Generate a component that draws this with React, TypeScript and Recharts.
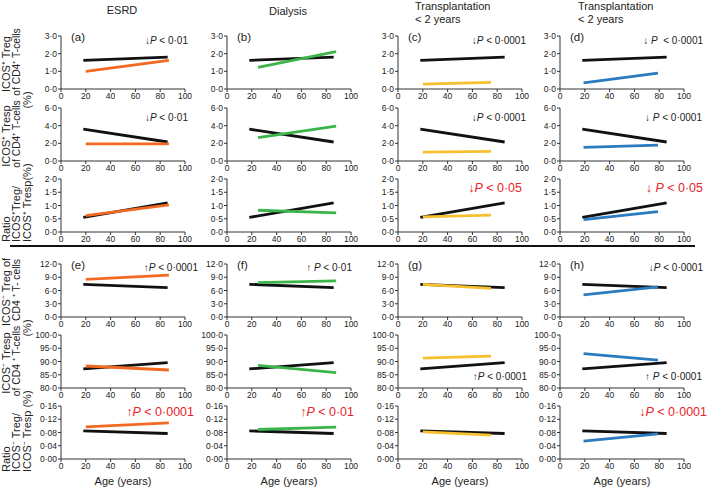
import { LineChart, Line, XAxis, YAxis } from "recharts";

const FONT = "'Liberation Sans', Arial, Helvetica, sans-serif";

const AGE_TICKS = [0, 20, 40, 60, 80, 100];
const COLUMN_TITLES = ["ESRD", "Dialysis", "Transplantation", "Transplantation"];
const COLUMN_SUBTITLES = ["", "", "< 2 years", "< 2 years"];
const GROUP_COLORS = ["#f26a21", "#3bb54a", "#f6c02f", "#2b7bc0"];
const PANEL_LETTERS = ["(a)", "(b)", "(c)", "(d)", "(e)", "(f)", "(g)", "(h)"];

// age span of each fitted line
const CONTROL_AGES = [18, 86];
const GROUP_AGES = [
  [20, 87],
  [25, 88],
  [20, 75],
  [19, 79],
];

// y at start / end age: healthy controls (black) and the patient group per column
const icosPosTregControl = [1.62, 1.8];
const icosPosTregGroups = [[1.0, 1.62], [1.22, 2.12], [0.28, 0.38], [0.35, 0.9]];

const icosPosTrespControl = [3.6, 2.15];
const icosPosTrespGroups = [[1.95, 1.95], [2.65, 3.95], [1.0, 1.1], [1.55, 1.8]];

const icosPosRatioControl = [0.55, 1.1];
const icosPosRatioGroups = [[0.62, 1.02], [0.82, 0.72], [0.57, 0.64], [0.47, 0.77]];

const icosNegTregControl = [7.4, 6.65];
const icosNegTregGroups = [[8.5, 9.5], [7.8, 8.2], [7.4, 6.5], [5.0, 6.8]];

const icosNegTrespControl = [87.2, 89.6];
const icosNegTrespGroups = [[88.3, 86.8], [88.5, 85.8], [91.3, 92.0], [93.0, 90.5]];

const icosNegRatioControl = [0.085, 0.077];
const icosNegRatioGroups = [[0.097, 0.109], [0.089, 0.096], [0.082, 0.072], [0.054, 0.076]];

const ROWS = [
  { control: icosPosTregControl, groups: icosPosTregGroups, ticks: [0, 1, 2, 3], dec: 1 },
  { control: icosPosTrespControl, groups: icosPosTrespGroups, ticks: [0, 2, 4, 6], dec: 1 },
  { control: icosPosRatioControl, groups: icosPosRatioGroups, ticks: [0, 0.5, 1, 1.5, 2], dec: 1 },
  { control: icosNegTregControl, groups: icosNegTregGroups, ticks: [0, 3, 6, 9, 12], dec: 1 },
  { control: icosNegTrespControl, groups: icosNegTrespGroups, ticks: [80, 85, 90, 95, 100], dec: 1 },
  { control: icosNegRatioControl, groups: icosNegRatioGroups, ticks: [0, 0.04, 0.08, 0.12, 0.16], dec: 2 },
];

// layout
const COL_LEFT = [61, 227, 398, 560];
const ROW_TOP = [36, 108, 179, 264, 335, 406];
const PLOT_W = 124;
const PLOT_H = 53;

// p-value notes: row, col, arrow, gap, text, red, x end, y baseline
const P_NOTES: [number, number, string, string, string, boolean, number, number][] = [
  [0, 0, "↓", "", " < 0·01", false, 188, 44],
  [0, 2, "↓", "", " < 0·0001", false, 526, 44],
  [0, 3, "↓", " ", "  < 0·0001", false, 703, 44],
  [1, 0, "↓", "", " < 0·01", false, 188, 121],
  [1, 2, "↓", "", " < 0·0001", false, 526, 121],
  [1, 3, "↓", " ", " < 0·0001", false, 702, 121],
  [2, 2, "↓", "", " < 0·05", true, 522, 192],
  [2, 3, "↓", " ", " < 0·05", true, 703, 192],
  [3, 0, "↑", "", " < 0·0001", false, 198, 271],
  [3, 1, "↑", " ", " < 0·01", false, 352, 271],
  [3, 3, "↓", "", " < 0·0001", false, 703, 271],
  [4, 2, "↑", "", " < 0·0001", false, 527, 380],
  [4, 3, "↑", " ", " < 0·0001", false, 702, 380],
  [5, 0, "↑", "", " < 0·0001", true, 194, 416],
  [5, 1, "↑", "", " < 0·01", true, 354, 416],
  [5, 3, "↓", "", " < 0·0001", true, 707, 416],
];

// rotated y labels, three lines each
const Y_LABELS = [
  ["ICOS⁺ Treg", "of CD4⁺ T-cells", "(%)"],
  ["ICOS⁺ Tresp", "of CD4⁺ T-cells", "(%)"],
  ["Ratio", "ICOS⁺Treg/", "ICOS⁺ Tresp"],
  ["ICOS⁻ Treg of", "CD4 ⁺ T- cells", "(%)"],
  ["ICOS⁻ Tresp", "of CD4 ⁺ T-cells", "(%)"],
  ["Ratio", "ICOS⁻ Treg/", "ICOS⁻ Tresp"],
];

function Panel({ row, col }: { row: number; col: number }) {
  const r = ROWS[row];
  const ctrl = CONTROL_AGES.map((x, i) => ({ x, y: r.control[i] }));
  const grp = GROUP_AGES[col].map((x, i) => ({ x, y: r.groups[col][i] }));
  const fmt = (v: number) => v.toFixed(r.dec).replace(".", "·");
  return (
    <div style={{ position: "absolute", left: COL_LEFT[col] - 40, top: ROW_TOP[row] - 6 }}>
      <LineChart
        width={40 + PLOT_W + 14}
        height={6 + PLOT_H + 18}
        margin={{ top: 6, right: 14, bottom: 0, left: 0 }}
      >
        <XAxis
          type="number"
          dataKey="x"
          domain={[0, 100]}
          ticks={AGE_TICKS}
          interval={0}
          height={18}
          tickSize={3}
          tickMargin={1}
          axisLine={{ stroke: "#333" }}
          tickLine={{ stroke: "#333" }}
          tick={{ fontSize: 8.5, fill: "#222", fontFamily: FONT }}
        />
        <YAxis
          type="number"
          domain={[r.ticks[0], r.ticks[r.ticks.length - 1]]}
          ticks={r.ticks}
          interval={0}
          width={40}
          tickSize={3}
          tickMargin={1}
          tickFormatter={fmt}
          axisLine={{ stroke: "#333" }}
          tickLine={{ stroke: "#333" }}
          tick={{ fontSize: 8.5, fill: "#222", fontFamily: FONT }}
        />
        <Line data={ctrl} dataKey="y" stroke="#111" strokeWidth={2.8} dot={false} isAnimationActive={false} />
        <Line data={grp} dataKey="y" stroke={GROUP_COLORS[col]} strokeWidth={2.8} dot={false} isAnimationActive={false} />
      </LineChart>
    </div>
  );
}

export default function App() {
  const panels = [];
  for (let row = 0; row < 6; row++) {
    for (let col = 0; col < 4; col++) {
      panels.push(<Panel key={`${row}-${col}`} row={row} col={col} />);
    }
  }
  const lineX = [9.5, 20, 30.5];
  return (
    <div style={{ position: "absolute", left: 0, top: 0, width: 709, height: 488, background: "#fff", fontFamily: FONT, overflow: "hidden" }}>
      {panels}
      <svg width={709} height={488} style={{ position: "absolute", left: 0, top: 0, pointerEvents: "none" }} fontFamily={FONT}>
        {/* column headings */}
        <text x={122} y={14} fontSize={11} textAnchor="middle" fill="#222">{COLUMN_TITLES[0]}</text>
        <text x={288} y={15} fontSize={11} textAnchor="middle" fill="#222">{COLUMN_TITLES[1]}</text>
        {[2, 3].map((c) => (
          <g key={c}>
            <text x={c === 2 ? 415 : 578} y={10} fontSize={11} fill="#222">{COLUMN_TITLES[c]}</text>
            <text x={c === 2 ? 415 : 578} y={23} fontSize={11} fill="#222">{COLUMN_SUBTITLES[c]}</text>
          </g>
        ))}
        {/* panel letters */}
        {PANEL_LETTERS.map((l, i) => {
          const row = i < 4 ? 0 : 3;
          const col = i % 4;
          return (
            <text key={l} x={COL_LEFT[col] + 10} y={ROW_TOP[row] + 5} fontSize={11.5} fill="#222">{l}</text>
          );
        })}
        {/* separator */}
        <line x1={10} x2={695} y1={246} y2={246} stroke="#111" strokeWidth={2} />
        {/* p-values */}
        {P_NOTES.map(([row, col, arrow, gap, rest, red, x, y]) => (
          <text
            key={`${row}-${col}`}
            x={x}
            y={y}
            textAnchor="end"
            fontSize={red ? 12.5 : 10}
            fill={red ? "#e8232a" : "#222"}
            style={{ whiteSpace: "pre" }}
          >
            {arrow}
            {gap}
            <tspan fontStyle="italic">P</tspan>
            {rest}
          </text>
        ))}
        {/* y labels */}
        {Y_LABELS.map((lines, row) => {
          const top = ROW_TOP[row];
          const ratio = row === 2 || row === 5;
          return lines.map((t, k) => {
            const x = lineX[k];
            if (ratio) {
              const y = row === 2 ? 242 : 472;
              return (
                <text key={`${row}-${k}`} x={x} y={y} fontSize={11} fill="#222" transform={`rotate(-90 ${x} ${y})`}>{t}</text>
              );
            }
            const cy = k === 2 ? top + 64 : k === 1 ? top + 26 : top + 28;
            return (
              <text key={`${row}-${k}`} x={x} y={cy} fontSize={k === 1 ? 10.3 : 11} fill="#222" textAnchor="middle" transform={`rotate(-90 ${x} ${cy})`}>{t}</text>
            );
          });
        })}
        {/* x labels */}
        {COL_LEFT.map((l, c) => (
          <text key={c} x={l + PLOT_W / 2} y={485} fontSize={11} textAnchor="middle" fill="#222">Age (years)</text>
        ))}
      </svg>
    </div>
  );
}
